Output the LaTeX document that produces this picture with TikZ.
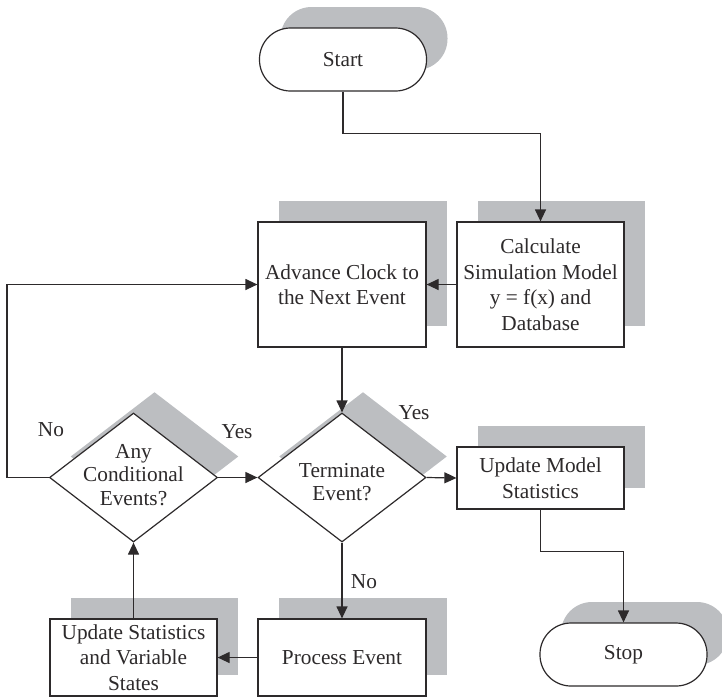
\documentclass[tikz,border=0pt]{standalone}
\usepackage{fontspec}
\setmainfont{Liberation Serif}
\usetikzlibrary{arrows.meta,shapes.geometric,shadows}

\definecolor{shade}{RGB}{188,190,193}
\definecolor{ink}{RGB}{45,42,43}

\tikzset{
  base/.style={draw=ink, line width=1.2pt, fill=white, text=ink, align=center,
    inner sep=0pt, font=\fontsize{21.3}{25.5}\selectfont,
    general shadow={shadow xshift=21pt, shadow yshift=21pt, fill=shade, draw=none}},
  procbox/.style={base, rectangle, minimum width=#1},
  procbox/.default=167pt,
  termbox/.style={base, rectangle, rounded corners=31pt, minimum width=167pt, minimum height=63pt},
  decbox/.style={base, diamond, minimum width=168pt, minimum height=129pt},
  inner/.style={text=ink, align=center, inner sep=0pt, font=\fontsize{21.3}{23.5}\selectfont},
  tag/.style={text=ink, inner sep=0pt, font=\fontsize{21.3}{24}\selectfont},
  conn/.style={draw=ink, line width=1.2pt, -{Triangle[length=12pt,width=11pt]}},
}

\begin{document}
\begin{tikzpicture}[x=1pt, y=-1pt]
  \useasboundingbox (0,0) rectangle (722,697);

  % terminators
  \node[termbox] (start) at (343,59.5) {Start};
  \node[termbox] (stop)  at (623.5,654.5) {Stop};

  % process boxes
  \node[procbox, minimum height=125pt] (calc) at (540.5,284.5)
    {Calculate\\Simulation Model\\y = f(x) and\\Database};
  \node[procbox=168pt, minimum height=125pt] (adv) at (342,284.5)
    {Advance Clock to\\the Next Event};
  \node[procbox, minimum height=62pt] (upd) at (540.5,478)
    {Update Model\\Statistics};
  \node[procbox, minimum height=77pt] (upstat) at (133.5,657.5)
    {Update Statistics\\and Variable\\States};
  \node[procbox=168pt, minimum height=77pt] (proc) at (342,657.5)
    {Process Event};

  % decisions
  \node[decbox] (cond) at (133.5,477.5) {};
  \node[inner] (condtxt) at (133.5,475) {Any\\Conditional\\Events?};
  \node[decbox] (term) at (342,477.5) {};
  \node[inner] (termtxt) at (342,482) {Terminate\\Event?};

  % branch labels
  \node[tag] (no1)  at (51,430)  {No};
  \node[tag] (yes1) at (237,432) {Yes};
  \node[tag] (yes2) at (414,413) {Yes};
  \node[tag] (no2)  at (364,582) {No};

  % connectors
  \draw[conn] (start.south) -- ++(0,42) -| (calc.north);
  \draw[conn] (calc.west) -- (adv.east);
  \draw[conn] (adv.south) -- (term.north);
  \draw[conn] (cond.east) -- (term.west);
  \draw[conn] (term.east) -- (upd.west);
  \draw[conn] (term.south) -- (proc.north);
  \draw[conn] (proc.west) -- (upstat.east);
  \draw[conn] (upstat.north) -- (cond.south);
  \draw[conn] (cond.west) -- ++(-42,0) |- (adv.west);
  \draw[conn] (upd.south) -- ++(0,42) -| (stop.north);
\end{tikzpicture}
\end{document}
